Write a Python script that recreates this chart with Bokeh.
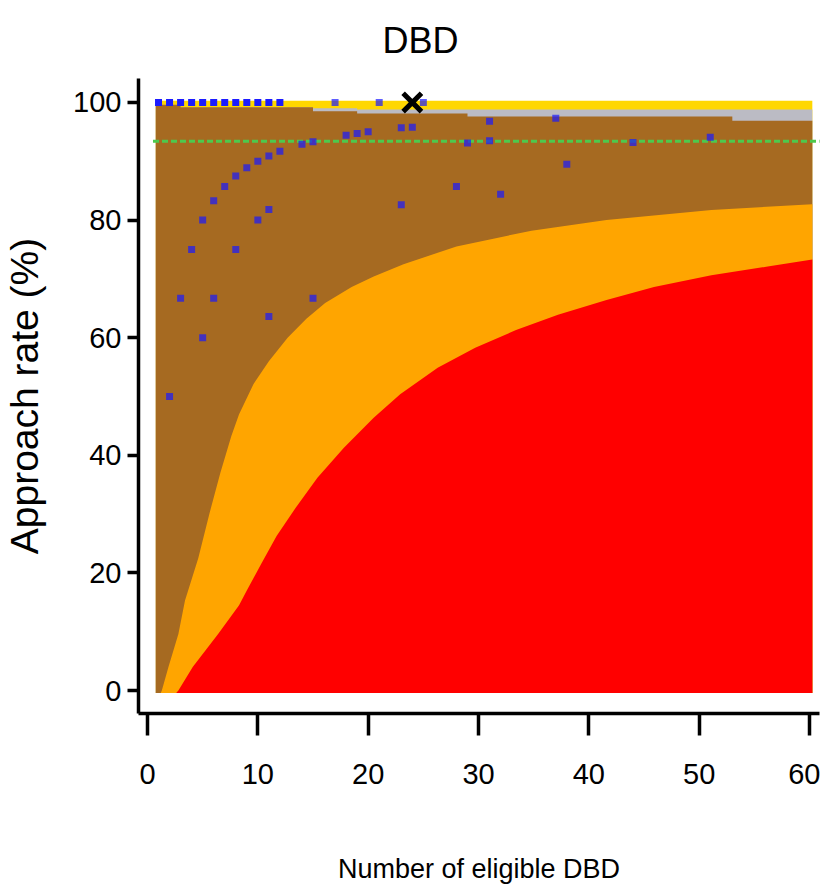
import numpy as np
from bokeh.plotting import figure
from bokeh.models import FixedTicker, Range1d, ColumnDataSource
from bokeh.embed import file_html
from bokeh.resources import INLINE

# ---------------- data ----------------
title_text = "DBD"
x_label = "Number of eligible DBD"
y_label = "Approach rate (%)"
x_ticks = [0, 10, 20, 30, 40, 50, 60]
y_ticks = [0, 20, 40, 60, 80, 100]

n_min, n_max = 0.75, 60.25
rate_floor, rate_ceiling = -0.4, 100.3
target_rate = 93.4
target_n = [0.5, 61.5]

# lower 99.8% limit (top of red band)
red_n = [2.6, 2.8, 4.1, 6.4, 8.3, 9.0, 10.3, 11.7, 13.4, 15.4, 17.8, 20.5, 22.9, 26.3,
         29.7, 33.4, 37.2, 41.6, 45.9, 51.1, 56.2, 60.25]
red_limit = [-0.4, 0, 4, 9.6, 14.5, 17.0, 21.5, 26.3, 31.0, 36.2, 41.3, 46.4, 50.4, 54.9,
             58.3, 61.3, 63.9, 66.4, 68.6, 70.6, 72.1, 73.3]

# lower 95% limit (top of orange band)
orange_n = [1.2, 1.3, 1.9, 2.8, 3.4, 4.6, 5.6, 6.6, 7.6, 8.3, 9.6, 11.0, 12.7, 14.4, 16.1,
            18.5, 20.5, 23.2, 28.0, 34.8, 41.6, 51.1, 60.25]
orange_limit = [-0.4, 0, 4, 9.6, 15.3, 22.5, 30, 37, 43.3, 47.0, 52.1, 56.0, 60.0, 63.2, 65.9,
                68.6, 70.4, 72.5, 75.5, 78.2, 80.0, 81.7, 82.7]

# upper 95% limit (top of brown band)
brown_n = [0.75, 3, 3, 15, 15, 19, 19, 29, 29, 53, 53, 60.25]
brown_limit = [99.6, 99.6, 99.2, 99.2, 98.5, 98.5, 98.1, 98.1, 97.6, 97.6, 96.9, 96.9]

# upper 99.8% limit (top of grey band)
grey_n = [0.75, 3, 3, 15, 15, 19, 19, 60.25]
grey_limit = [99.6, 99.6, 99.2, 99.2, 99.0, 99.0, 98.8, 98.8]

# centres
centre_n = [1, 2, 3, 4, 5, 6, 7, 8, 9, 10, 11, 12, 17, 21, 25,
            2, 3, 4, 5, 5, 6, 6, 7, 8, 8, 9, 10, 10, 11, 11, 11, 12, 14, 15, 15,
            18, 19, 20, 23, 23, 24, 28, 29, 31, 31, 32, 37, 38, 44, 51]
centre_rate = [100, 100, 100, 100, 100, 100, 100, 100, 100, 100, 100, 100, 100, 100, 100,
               50, 66.7, 75, 60, 80, 66.7, 83.3, 85.7, 75, 87.5, 88.9, 80, 90, 63.6, 81.8, 90.9, 91.7, 92.9, 66.7, 93.3,
               94.4, 94.7, 95, 82.6, 95.7, 95.8, 85.7, 93.1, 93.5, 96.8, 84.4, 97.3, 89.5, 93.2, 94.1]
centre_count = [4, 4, 4, 4, 4, 4, 4, 4, 4, 4, 4, 4, 1, 1, 1,
                1, 1, 1, 1, 1, 1, 1, 1, 1, 1, 1, 1, 1, 1, 1, 1, 1, 1, 1, 1,
                1, 1, 1, 1, 1, 1, 1, 1, 1, 1, 1, 1, 1, 1, 1]

highlight_n = [24]
highlight_rate = [100]

# ---------------- figure ----------------
FONT = "Liberation Sans"
p = figure(width=820, height=895,
           x_range=Range1d(-0.814, 60.90), y_range=Range1d(-3.9, 104.07),
           output_backend="svg", toolbar_location=None,
           min_border_left=137, min_border_right=1,
           min_border_top=77, min_border_bottom=182)
p.outline_line_color = None
p.grid.visible = False
p.background_fill_color = "white"

p.title.text = title_text
p.title.text_font = FONT
p.title.text_font_size = "36px"
p.title.text_font_style = "normal"
p.title.text_color = "black"
p.title.align = "left"
p.title.offset = 244
p.title.standoff = 35

def band(xs, ys):
    return [xs[0]] + list(xs) + [xs[-1]], [rate_floor] + list(ys) + [rate_floor]

p.quad(left=[n_min], right=[n_max], bottom=[rate_floor], top=[rate_ceiling],
       fill_color="#FFD700", line_color=None)
gx, gy = band(grey_n, grey_limit)
p.patch(gx, gy, fill_color="#BBBBC4", line_color=None)
bx, by = band(brown_n, brown_limit)
p.patch(bx, by, fill_color="#A66A21", line_color=None)
ox, oy = band(orange_n, orange_limit)
p.patch(ox, oy, fill_color="#FFA500", line_color=None)
rx, ry = band(red_n, red_limit)
p.patch(rx, ry, fill_color="#FF0000", line_color=None)

p.line(target_n, [target_rate, target_rate], line_color="#4DC94D",
       line_width=3, line_dash="6 3")

alphas = [1 - (1 - 0.7) ** c for c in centre_count]
src = ColumnDataSource(dict(n=centre_n, rate=centre_rate, a=alphas))
p.scatter("n", "rate", source=src, marker="square", size=7,
          fill_color="#1A1AFF", fill_alpha="a", line_color=None)

p.scatter(highlight_n, highlight_rate, marker="x", size=26,
          line_color="black", line_width=5)

for ax in (p.xaxis[0], p.yaxis[0]):
    ax.axis_line_width = 3.5
    ax.axis_line_color = "black"
    ax.major_tick_line_width = 3.5
    ax.major_tick_line_color = "black"
    ax.minor_tick_line_color = None
    ax.major_tick_in = 0
    ax.major_label_text_font = FONT
    ax.major_label_text_font_size = "29px"
    ax.major_label_text_color = "black"
    ax.axis_label_text_font = FONT
    ax.axis_label_text_font_style = "normal"
    ax.axis_label_text_color = "black"

p.xaxis.ticker = FixedTicker(ticks=x_ticks)
p.yaxis.ticker = FixedTicker(ticks=y_ticks)
p.xaxis.major_tick_out = 22
p.yaxis.major_tick_out = 11
p.xaxis.major_label_standoff = 28
p.yaxis.major_label_standoff = 6

p.xaxis.axis_label = x_label
p.xaxis.axis_label_text_font_size = "27px"
p.xaxis.axis_label_standoff = 67
p.yaxis.axis_label = y_label
p.yaxis.axis_label_text_font_size = "39px"
p.yaxis.axis_label_standoff = 24

open("out.html", "w").write(file_html(p, INLINE))
